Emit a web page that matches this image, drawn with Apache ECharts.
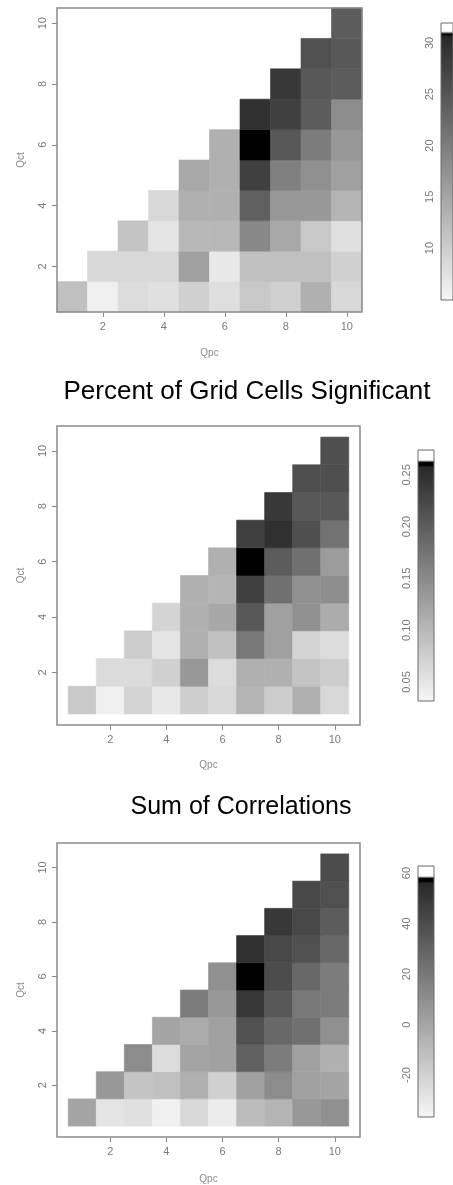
<!DOCTYPE html>
<html>
<head>
<meta charset="utf-8">
<script src="https://cdn.jsdelivr.net/npm/echarts@6/dist/echarts.min.js"></script>
<style>
  html, body { margin: 0; padding: 0; background: #fff; }
  #chart { width: 453px; height: 1185px; }
</style>
</head>
<body>
<div id="chart"></div>
<script>
// rows are Qct = 1..10, each row holds Qpc = Qct..10
const countRows = [
  [11.7, 5.7, 8.2, 7.7, 9.7, 7.9, 10.7, 9.8, 13.7, 8.7],
  [8.7, 8.7, 8.7, 15.6, 6.7, 11.7, 11.7, 11.7, 9.7],
  [11.2, 7.2, 12.7, 12.7, 18.6, 14.6, 10.7, 7.7],
  [8.7, 13.7, 13.7, 23.6, 16.6, 16.6, 13.2],
  [14.6, 13.7, 27.6, 19.6, 17.6, 15.6],
  [13.7, 30.9, 24.6, 20.1, 16.6],
  [29.6, 27.6, 24.1, 18.1],
  [28.6, 24.6, 24.1],
  [25.6, 24.6],
  [24.1]
];
const percentRows = [
  [0.082, 0.038, 0.069, 0.047, 0.075, 0.065, 0.104, 0.078, 0.109, 0.065],
  [0.061, 0.061, 0.074, 0.135, 0.060, 0.109, 0.109, 0.087, 0.078],
  [0.078, 0.051, 0.109, 0.091, 0.171, 0.126, 0.069, 0.060],
  [0.069, 0.109, 0.118, 0.206, 0.126, 0.144, 0.113],
  [0.109, 0.104, 0.232, 0.179, 0.144, 0.146],
  [0.109, 0.261, 0.201, 0.179, 0.131],
  [0.232, 0.250, 0.215, 0.177],
  [0.241, 0.206, 0.206],
  [0.215, 0.215],
  [0.215]
];
const corrRows = [
  [0.4, -28.5, -26.7, -33.9, -23.1, -32.1, -10.4, -6.8, 5.8, 9.4],
  [5.8, -14.0, -12.2, -5.0, -19.4, 2.2, 11.3, 2.2, 0.4],
  [11.3, -24.9, 0.4, 2.2, 31.1, 18.5, 2.2, -5.0],
  [0.4, -3.2, 2.2, 38.3, 27.5, 23.9, 9.4],
  [18.5, 5.8, 49.2, 34.7, 20.3, 18.5],
  [9.4, 57.5, 40.1, 27.5, 18.5],
  [52.8, 42.0, 38.3, 27.5],
  [49.2, 42.0, 32.9],
  [42.0, 38.3],
  [40.1]
];

const qTicks = [2, 4, 6, 8, 10];
const countTicks = [10, 15, 20, 25, 30];
const percentTicks = [0.05, 0.10, 0.15, 0.20, 0.25];
const corrTicks = [-20, 0, 20, 40, 60];

// colour scale: [low end, start of black, high end, top of legend box]
const countScale = [4.93, 30.6, 31.07, 31.95];
const percentScale = [0.0316, 0.2587, 0.2626, 0.274];
const corrScale = [-36.6, 56.4, 58.0, 62.8];

const titles = ['', 'Percent of Grid Cells Significant', 'Sum of Correlations'];

const FONT = '"Liberation Sans", Arial, sans-serif';

function toCells(rows) {
  const out = [];
  rows.forEach((row, r) => {
    row.forEach((v, k) => out.push([r + 1 + k, r + 1, v]));
  });
  return out;
}

function ramp(scale) {
  const [lo, blk, hi, top] = scale;
  const n = 400;
  const cols = [];
  for (let i = 0; i <= n; i++) {
    const v = lo + (top - lo) * i / n;
    let g;
    if (v > hi) g = 255;
    else if (v >= blk) g = 0;
    else g = Math.round(246 - (v - lo) / (blk - lo) * 206);
    cols.push('rgb(' + g + ',' + g + ',' + g + ')');
  }
  return cols;
}

const panels = [
  { rows: countRows, ticks: countTicks, scale: countScale, pad: 0.5, nameGap: 36, fmt: v => String(v) },
  { rows: percentRows, ticks: percentTicks, scale: percentScale, pad: 0.9, nameGap: 35, fmt: v => v.toFixed(2) },
  { rows: corrRows, ticks: corrTicks, scale: corrScale, pad: 0.9, nameGap: 37, fmt: v => String(v) }
];

const mainGrids = [
  { left: 57, top: 8, width: 305, height: 304 },
  { left: 57, top: 426, width: 303, height: 299 },
  { left: 57, top: 843, width: 303, height: 300 }
];
const barGrids = [
  { left: 441, top: 23, width: 16, height: 277 },
  { left: 418, top: 450, width: 16, height: 251 },
  { left: 418, top: 866, width: 16, height: 251 }
];

const grid = [], xAxis = [], yAxis = [], series = [], visualMap = [];
const tickStyle = { lineStyle: { color: '#8a8a8a', width: 1 } };
const labelStyle = { color: '#7a7a7a', fontSize: 11, fontFamily: FONT };
const nameStyle = { color: '#8c8c8c', fontSize: 10, fontFamily: FONT };

panels.forEach((p, i) => {
  grid.push(Object.assign({ show: true, borderColor: '#8a8a8a', borderWidth: 1.5, z: 10 }, mainGrids[i]));
  grid.push(Object.assign({ show: true, borderColor: '#6a6a6a', borderWidth: 1, z: 10 }, barGrids[i]));
  const gm = i * 2, gb = i * 2 + 1;

  xAxis.push({
    gridIndex: gm, type: 'value', min: 1 - p.pad, max: 10 + p.pad,
    name: 'Qpc', nameLocation: 'middle', nameGap: p.nameGap, nameTextStyle: nameStyle,
    axisLine: { show: false }, splitLine: { show: false },
    axisTick: Object.assign({ show: true, length: 5, customValues: qTicks }, tickStyle),
    axisLabel: Object.assign({ customValues: qTicks, margin: 9 }, labelStyle)
  });
  yAxis.push({
    gridIndex: gm, type: 'value', min: 1 - p.pad, max: 10 + p.pad,
    name: 'Qct', nameLocation: 'middle', nameGap: 31, nameRotate: 90, nameTextStyle: nameStyle,
    axisLine: { show: false }, splitLine: { show: false },
    axisTick: Object.assign({ show: true, length: 5, customValues: qTicks }, tickStyle),
    axisLabel: Object.assign({ customValues: qTicks, rotate: 90, margin: 9 }, labelStyle)
  });
  xAxis.push({ gridIndex: gb, type: 'value', show: false, min: 0, max: 1 });
  yAxis.push({
    gridIndex: gb, type: 'value', min: p.scale[0], max: p.scale[3], position: 'left',
    axisLine: { show: false }, splitLine: { show: false }, axisTick: { show: false },
    axisLabel: Object.assign({ customValues: p.ticks, rotate: 90, margin: 6, formatter: p.fmt }, labelStyle)
  });

  series.push({
    type: 'custom',
    xAxisIndex: gm, yAxisIndex: gm,
    data: toCells(p.rows),
    encode: { x: 0, y: 1 },
    renderItem: function (params, api) {
      const x = api.value(0), y = api.value(1);
      const a = api.coord([x - 0.5, y + 0.5]);
      const b = api.coord([x + 0.5, y - 0.5]);
      const c = api.visual('color');
      return {
        type: 'rect',
        shape: { x: a[0], y: a[1], width: b[0] - a[0], height: b[1] - a[1] },
        style: { fill: c, stroke: c, lineWidth: 0.6 }
      };
    }
  });

  visualMap.push({
    type: 'continuous', seriesIndex: i, dimension: 2,
    min: p.scale[0], max: p.scale[3], calculable: false, text: null,
    orient: 'vertical', padding: 0,
    left: barGrids[i].left, top: barGrids[i].top,
    itemWidth: barGrids[i].width, itemHeight: barGrids[i].height,
    inRange: { color: ramp(p.scale) }
  });
});

const option = {
  backgroundColor: '#fff',
  animation: false,
  title: [
    { text: titles[1], left: 242, top: 374, textAlign: 'center',
      textStyle: { fontSize: 26, fontWeight: 'normal', color: '#000', fontFamily: FONT } },
    { text: titles[2], left: 236, top: 790, textAlign: 'center',
      textStyle: { fontSize: 25, fontWeight: 'normal', color: '#000', fontFamily: FONT } }
  ],
  grid, xAxis, yAxis, series, visualMap
};

const chart = echarts.init(document.getElementById('chart'));
chart.setOption(option);
</script>
</body>
</html>
